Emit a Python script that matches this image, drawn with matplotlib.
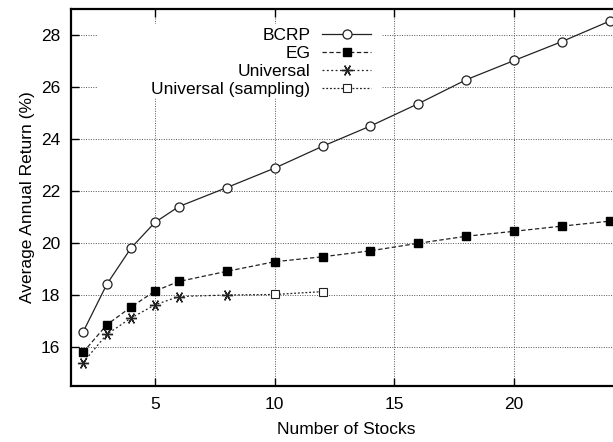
import matplotlib
matplotlib.use("Agg")
import matplotlib.pyplot as plt
from matplotlib.patches import Rectangle

plt.rcParams['font.family'] = ['Liberation Sans', 'DejaVu Sans']

stocks = [2, 3, 4, 5, 6, 8, 10, 12, 14, 16, 18, 20, 22, 24]
bcrp = [16.57, 18.42, 19.80, 20.79, 21.40, 22.13, 22.88, 23.72, 24.50, 25.36, 26.28, 27.02, 27.75, 28.54]
eg = [15.79, 16.86, 17.53, 18.15, 18.52, 18.91, 19.28, 19.47, 19.70, 19.99, 20.26, 20.45, 20.65, 20.84]
univ_x = [2, 3, 4, 5, 6, 8]
univ = [15.40, 16.49, 17.11, 17.62, 17.94, 18.00]
samp_x = [8, 10, 12]
samp = [18.00, 18.02, 18.13]

fs = 12.5
fig = plt.figure(figsize=(6.13, 4.42), dpi=100)
ax = fig.add_axes([71 / 613, 56 / 442, 551 / 613, 377 / 442])

ink = '#222222'
ax.plot(stocks, bcrp, '-', color=ink, lw=0.9, marker='o', ms=6.5,
        mfc='white', mec=ink, mew=0.9, label='BCRP', clip_on=False, zorder=4)
ax.plot(stocks, eg, color=ink, lw=0.9, ls=(0, (3.5, 2)), marker='s', ms=6.2,
        mfc='black', mec='black', label='EG', clip_on=False, zorder=4)
ax.plot(univ_x, univ, color=ink, lw=0.9, ls=(0, (1.5, 2)), marker=(6, 2, 90),
        ms=8, mec=ink, mew=1.0, label='Universal', zorder=4)
ax.plot(samp_x, samp, color=ink, lw=0.9, ls=(0, (1.5, 1.5)), marker='s', ms=5.5,
        mfc='white', mec=ink, mew=0.8, markevery=[1, 2],
        label='Universal (sampling)', zorder=4)

ax.set_xlim(1.5, 24.5)
ax.set_ylim(14.5, 29)
ax.set_xticks([5, 10, 15, 20])
ax.set_yticks([16, 18, 20, 22, 24, 26, 28])
ax.grid(True, color='#555555', ls=(0, (1, 1.5)), lw=0.7)
ax.tick_params(direction='in', length=6, width=1, top=True, right=True,
               labelsize=fs, pad=8)
for s in ax.spines.values():
    s.set_linewidth(1.6)

ax.set_xlabel('Number of Stocks', fontsize=fs, labelpad=7)
ax.set_ylabel('Average Annual Return (%)', fontsize=fs, labelpad=4)

# white key box hiding the grid behind the legend
ax.add_patch(Rectangle((97 / 613, 1 - 98 / 442), 285 / 613, 74 / 442,
                       transform=fig.transFigure, facecolor='white',
                       edgecolor='none', zorder=2))

leg = ax.legend(loc='upper right', bbox_to_anchor=(371 / 613, 1 - 28 / 442),
                bbox_transform=fig.transFigure, markerfirst=False,
                frameon=False, fontsize=fs, handlelength=2.8,
                handletextpad=0.7, labelspacing=0.17, borderpad=0,
                borderaxespad=0)
for t in leg.get_texts():
    t.set_ha('right')
leg._legend_box.align = 'right'
leg.set_zorder(5)

fig.savefig('out.png', dpi=100)
